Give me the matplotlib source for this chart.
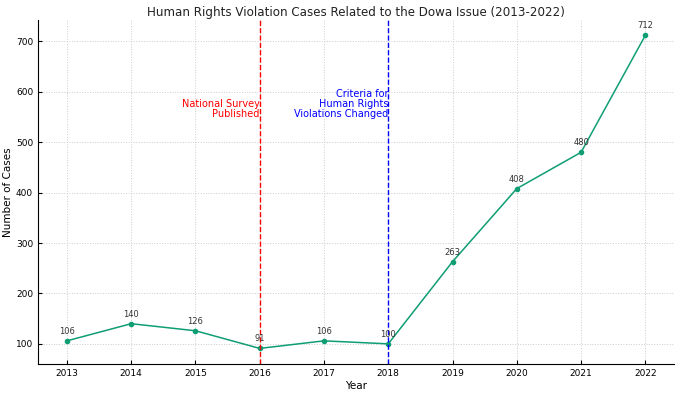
import matplotlib.pyplot as plt

years = [2013, 2014, 2015, 2016, 2017, 2018, 2019, 2020, 2021, 2022]
cases = [106, 140, 126, 91, 106, 100, 263, 408, 480, 712]

line_color = '#0f9d74'

fig, ax = plt.subplots(figsize=(6.79, 3.94), dpi=100)

ax.plot(years, cases, marker='o', markersize=3, linewidth=1.1, color=line_color)

# value labels above each point
for x, y in zip(years, cases):
    ax.annotate(str(y), (x, y), textcoords='offset points', xytext=(0, 5),
                ha='center', fontsize=6, color='#333333')

# event markers
ax.axvline(x=2016, linestyle='--', color='red', linewidth=1)
ax.axvline(x=2018, linestyle='--', color='blue', linewidth=1)
ax.text(2016, 546, 'National Survey\nPublished', color='red', ha='right', va='bottom',
        fontsize=7, linespacing=1.0)
ax.text(2018, 546, 'Criteria for\nHuman Rights\nViolations Changed', color='blue',
        ha='right', va='bottom', fontsize=7, linespacing=1.0)

ax.set_title('Human Rights Violation Cases Related to the Dowa Issue (2013-2022)',
             fontsize=8.6, pad=3, color='#222222')
ax.set_xlabel('Year', fontsize=7.5, labelpad=2)
ax.set_ylabel('Number of Cases', fontsize=7.5, labelpad=2)
ax.set_xticks(years)
ax.tick_params(labelsize=6.5, direction='in', length=3)
ax.grid(True, linestyle=':', color='#cccccc', linewidth=0.7)
ax.spines['top'].set_visible(False)
ax.spines['right'].set_visible(False)

plt.subplots_adjust(left=0.056, right=0.993, top=0.95, bottom=0.076)
plt.savefig('out.png', dpi=100)
